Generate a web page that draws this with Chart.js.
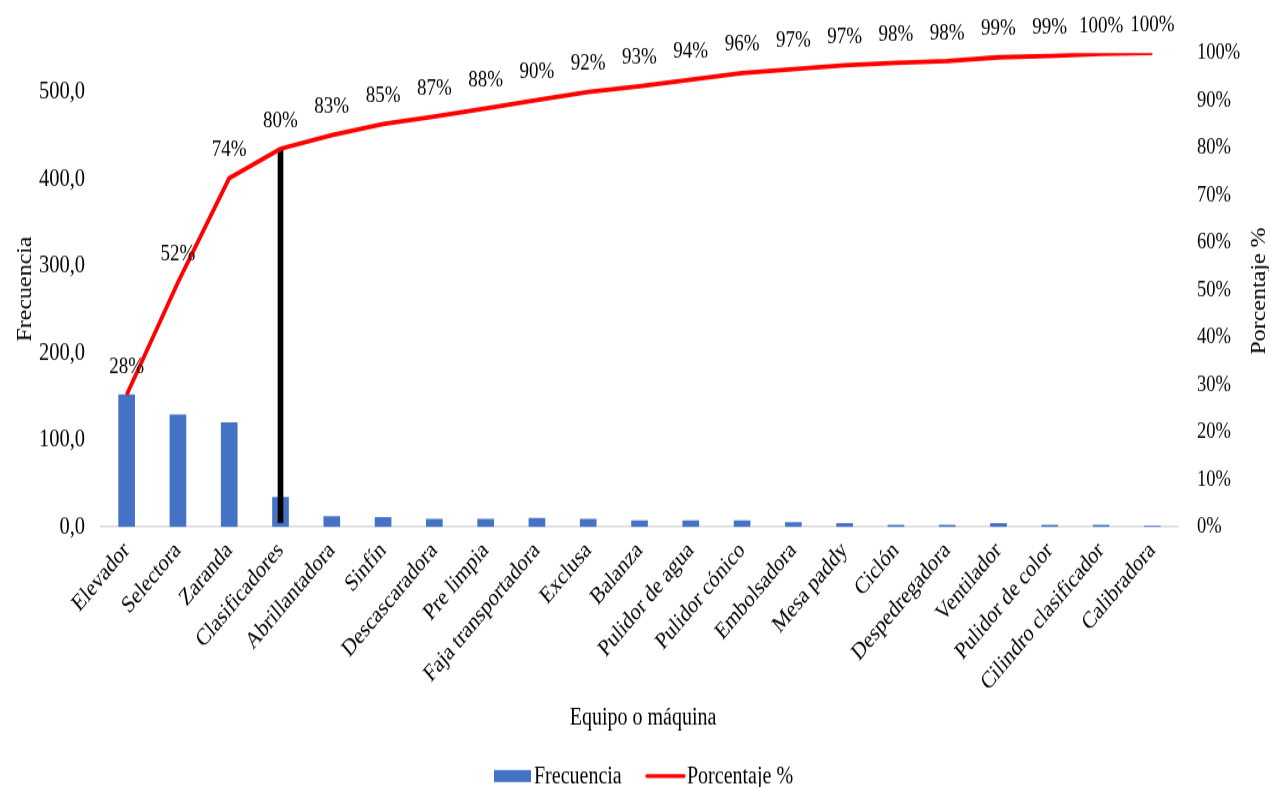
<!DOCTYPE html>
<html>
<head>
<meta charset="utf-8">
<title>Diagrama de Pareto</title>
<script src="https://cdn.jsdelivr.net/npm/chart.js@4/dist/chart.umd.min.js"></script>
<style>
  html, body { margin: 0; padding: 0; background: #ffffff; overflow: hidden; }
  canvas { display: block; }
</style>
</head>
<body>
<!-- The drawing buffer is shorter than the displayed box, so the figure is stretched vertically -->
<canvas id="pareto" width="1269" height="656" style="width:1269px;height:787px"></canvas>
<script>
// Equipos ordenados de mayor a menor frecuencia de fallas
const categorias = [
  'Elevador', 'Selectora', 'Zaranda', 'Clasificadores', 'Abrillantadora', 'Sinfín',
  'Descascaradora', 'Pre limpia', 'Faja transportadora', 'Exclusa', 'Balanza',
  'Pulidor de agua', 'Pulidor cónico', 'Embolsadora', 'Mesa paddy', 'Ciclón',
  'Despedregadora', 'Ventilador', 'Pulidor de color', 'Cilindro clasificador', 'Calibradora'
];

// Frecuencia por equipo
const frecuencia = [152, 129, 120, 34, 12, 11, 9, 9, 10, 9, 7, 7, 7, 5, 4, 2, 2, 4, 2, 2, 1];

// Porcentaje acumulado
const porcentaje = [27.9, 51.6, 73.6, 79.8, 82.7, 85.0, 86.6, 88.3, 90.1, 91.8, 93.0,
                    94.4, 95.8, 96.6, 97.4, 97.9, 98.3, 99.1, 99.4, 99.8, 100];

// Eje de frecuencia: tope igual al total acumulado
const frecuenciaMax = 545;
const frecuenciaPaso = 100;

// Eje de porcentaje
const porcentajeMax = 100;
const porcentajePaso = 10;

// Línea de corte en el equipo donde se alcanza el 80 %
const corteCategoria = 'Clasificadores';
const corteBase = 1;

const SERIF = '"Liberation Serif", "Times New Roman", Times, serif';
const AZUL = '#4472C4';
const ROJO = '#FF0000';

// Factor de estiramiento vertical entre el lienzo y su caja visible
const SY = 787 / 656;
const v = y => y / SY;

const corteIdx = categorias.indexOf(corteCategoria);
const corteDatos = categorias.map((c, i) => (i === corteIdx ? [corteBase, porcentaje[i]] : null));

// Etiquetas de porcentaje, títulos de ejes y leyenda
const rotulos = {
  id: 'rotulos',
  afterDatasetsDraw(chart) {
    const ctx = chart.ctx;
    const meta = chart.getDatasetMeta(0);
    ctx.save();
    ctx.fillStyle = '#000000';
    ctx.font = '19px ' + SERIF;
    ctx.textAlign = 'center';
    ctx.textBaseline = 'middle';
    meta.data.forEach((pt, i) => {
      ctx.fillText(Math.round(porcentaje[i]) + '%', pt.x, pt.y - v(28));
    });
    ctx.restore();
  },
  afterDraw(chart) {
    const ctx = chart.ctx;
    ctx.save();
    ctx.fillStyle = '#000000';
    ctx.font = '20px ' + SERIF;
    ctx.textBaseline = 'alphabetic';

    // Título del eje izquierdo
    ctx.save();
    ctx.translate(31, v(289));
    ctx.rotate(-Math.PI / 2);
    ctx.textAlign = 'center';
    ctx.fillText('Frecuencia', 0, 0);
    ctx.restore();

    // Título del eje derecho
    ctx.save();
    ctx.translate(1265, v(291));
    ctx.rotate(-Math.PI / 2);
    ctx.textAlign = 'center';
    ctx.fillText('Porcentaje %', 0, 0);
    ctx.restore();

    // Título del eje horizontal
    ctx.textAlign = 'center';
    ctx.fillText('Equipo o máquina', 643, v(725));

    // Leyenda
    ctx.textAlign = 'left';
    ctx.fillStyle = AZUL;
    ctx.fillRect(494, v(770), 37, v(12));
    ctx.fillStyle = '#000000';
    ctx.fillText('Frecuencia', 534, v(783));
    ctx.strokeStyle = ROJO;
    ctx.lineWidth = v(4);
    ctx.lineCap = 'round';
    ctx.beginPath();
    ctx.moveTo(647, v(776));
    ctx.lineTo(684, v(776));
    ctx.stroke();
    ctx.fillText('Porcentaje %', 687, v(783));
    ctx.restore();
  }
};

new Chart(document.getElementById('pareto'), {
  type: 'bar',
  data: {
    labels: categorias,
    datasets: [
      {
        type: 'line',
        label: 'Porcentaje %',
        data: porcentaje,
        yAxisID: 'y1',
        borderColor: ROJO,
        backgroundColor: ROJO,
        borderWidth: 3.8,
        pointRadius: 0,
        tension: 0,
        order: 0
      },
      {
        type: 'bar',
        label: 'Corte 80%',
        data: corteDatos,
        yAxisID: 'y1',
        backgroundColor: '#000000',
        barThickness: 5,
        grouped: false,
        order: 1
      },
      {
        type: 'bar',
        label: 'Frecuencia',
        data: frecuencia,
        yAxisID: 'y',
        backgroundColor: AZUL,
        barThickness: 16,
        grouped: false,
        order: 2
      }
    ]
  },
  options: {
    responsive: false,
    animation: false,
    devicePixelRatio: 1,
    layout: { padding: { top: v(53), left: 0, right: 0, bottom: 0 } },
    plugins: {
      legend: { display: false },
      tooltip: { enabled: false }
    },
    scales: {
      x: {
        offset: true,
        grid: { display: false, drawTicks: false },
        border: { display: true, color: '#d9d9d9', width: 1.6 },
        ticks: {
          color: '#000000',
          font: { family: SERIF, size: 20 },
          autoSkip: false,
          maxRotation: 45,
          minRotation: 45,
          padding: 8
        },
        afterFit(scale) { scale.height = 656 - v(527); }
      },
      y: {
        position: 'left',
        min: 0,
        max: frecuenciaMax,
        grid: { display: false, drawTicks: false },
        border: { display: false },
        ticks: {
          stepSize: frecuenciaPaso,
          includeBounds: false,
          color: '#000000',
          font: { family: SERIF, size: 20.5 },
          padding: 16,
          callback: val => val.toFixed(1).replace('.', ',')
        },
        afterFit(scale) { scale.width = 101; }
      },
      y1: {
        position: 'right',
        min: 0,
        max: porcentajeMax,
        grid: { display: false, drawTicks: false },
        border: { display: false },
        ticks: {
          stepSize: porcentajePaso,
          color: '#000000',
          font: { family: SERIF, size: 18.5 },
          padding: 19,
          callback: val => val + '%'
        },
        afterFit(scale) { scale.width = 91; }
      }
    }
  },
  plugins: [rotulos]
});
</script>
</body>
</html>
